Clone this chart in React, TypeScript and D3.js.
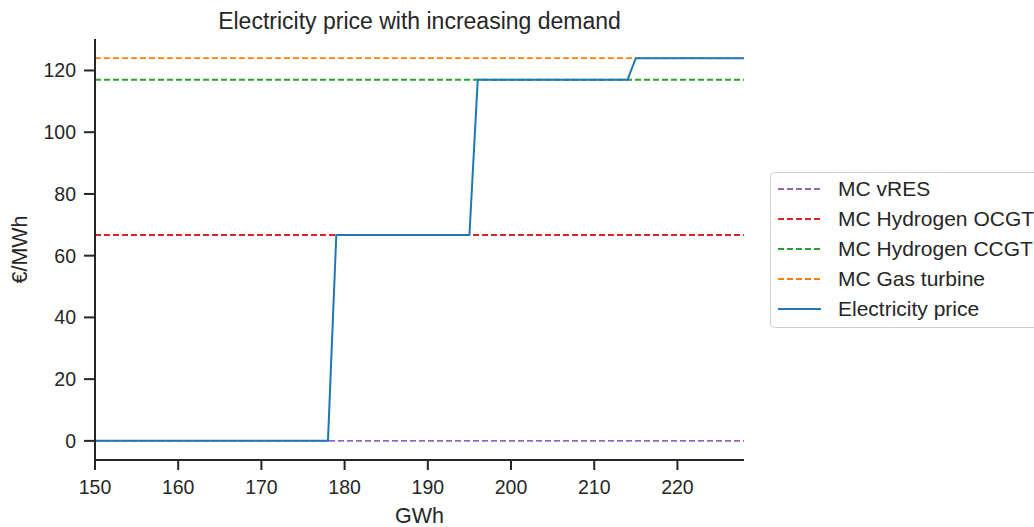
import React from "react";
import * as d3 from "d3";

const demand = [150, 178, 179, 195, 196, 214, 215, 228];
const price = [0, 0, 66.7, 66.7, 117, 117, 124, 124];
const mcNames = ["MC vRES", "MC Hydrogen OCGT", "MC Hydrogen CCGT", "MC Gas turbine"];
const mcValues = [0, 66.7, 117, 124];
const mcColors = ["#9467bd", "#d62728", "#2ca02c", "#ff7f0e"];
const xTicks = [150, 160, 170, 180, 190, 200, 210, 220];
const yTicks = [0, 20, 40, 60, 80, 100, 120];

const W = 1034, H = 527;
const left = 95, right = 744, top = 39, bottom = 460;
const font = "'Liberation Sans', Arial, sans-serif";
const ink = "#262626";

export default function App() {
  const x = d3.scaleLinear().domain([150, 228]).range([left, right]);
  const y = d3.scaleLinear().domain([-6.2, 130.2]).range([bottom, top]);
  const line = d3.line<number>().x((_, i) => x(demand[i])).y((d) => y(d));
  const legendItems = [...mcNames.map((n, i) => ({ n, c: mcColors[i], dash: true })), { n: "Electricity price", c: "#1f77b4", dash: false }];
  return (
    <svg width={W} height={H} style={{ position: "absolute", left: 0, top: 0, background: "#fff" }} fontFamily={font}>
      <text x={(left + right) / 2} y={29} textAnchor="middle" fontSize={23} fill={ink}>Electricity price with increasing demand</text>
      {mcValues.map((v, i) => (
        <line key={i} x1={left} x2={right} y1={y(v)} y2={y(v)} stroke={mcColors[i]} strokeWidth={1.8} strokeDasharray="6,3" />
      ))}
      <path d={line(price) || ""} fill="none" stroke="#1f77b4" strokeWidth={2} />
      <line x1={left} x2={left} y1={top} y2={bottom} stroke={ink} strokeWidth={2} />
      <line x1={left} x2={right} y1={bottom} y2={bottom} stroke={ink} strokeWidth={2} />
      {xTicks.map((t) => (
        <g key={t}>
          <line x1={x(t)} x2={x(t)} y1={bottom} y2={bottom + 10} stroke={ink} strokeWidth={2} />
          <text x={x(t)} y={494} textAnchor="middle" fontSize={19.5} fill={ink}>{t}</text>
        </g>
      ))}
      {yTicks.map((t) => (
        <g key={t}>
          <line x1={left - 11} x2={left} y1={y(t)} y2={y(t)} stroke={ink} strokeWidth={2} />
          <text x={76} y={y(t) + 7} textAnchor="end" fontSize={19.5} fill={ink}>{t}</text>
        </g>
      ))}
      <text x={(left + right) / 2} y={523} textAnchor="middle" fontSize={21.5} fill={ink}>GWh</text>
      <text transform={`translate(27,${(top + bottom) / 2}) rotate(-90)`} textAnchor="middle" fontSize={21.5} fill={ink}>€/MWh</text>
      <rect x={770.5} y={172.5} width={280} height={155} rx={4} fill="#fff" stroke="#d0d0d0" strokeWidth={1} />
      {legendItems.map((it, i) => {
        const ly = 189 + i * 30;
        return (
          <g key={it.n}>
            <line x1={778} x2={821} y1={ly} y2={ly} stroke={it.c} strokeWidth={1.8} strokeDasharray={it.dash ? "6,3" : undefined} />
            <text x={838} y={ly + 7} fontSize={21} fill={ink}>{it.n}</text>
          </g>
        );
      })}
    </svg>
  );
}
